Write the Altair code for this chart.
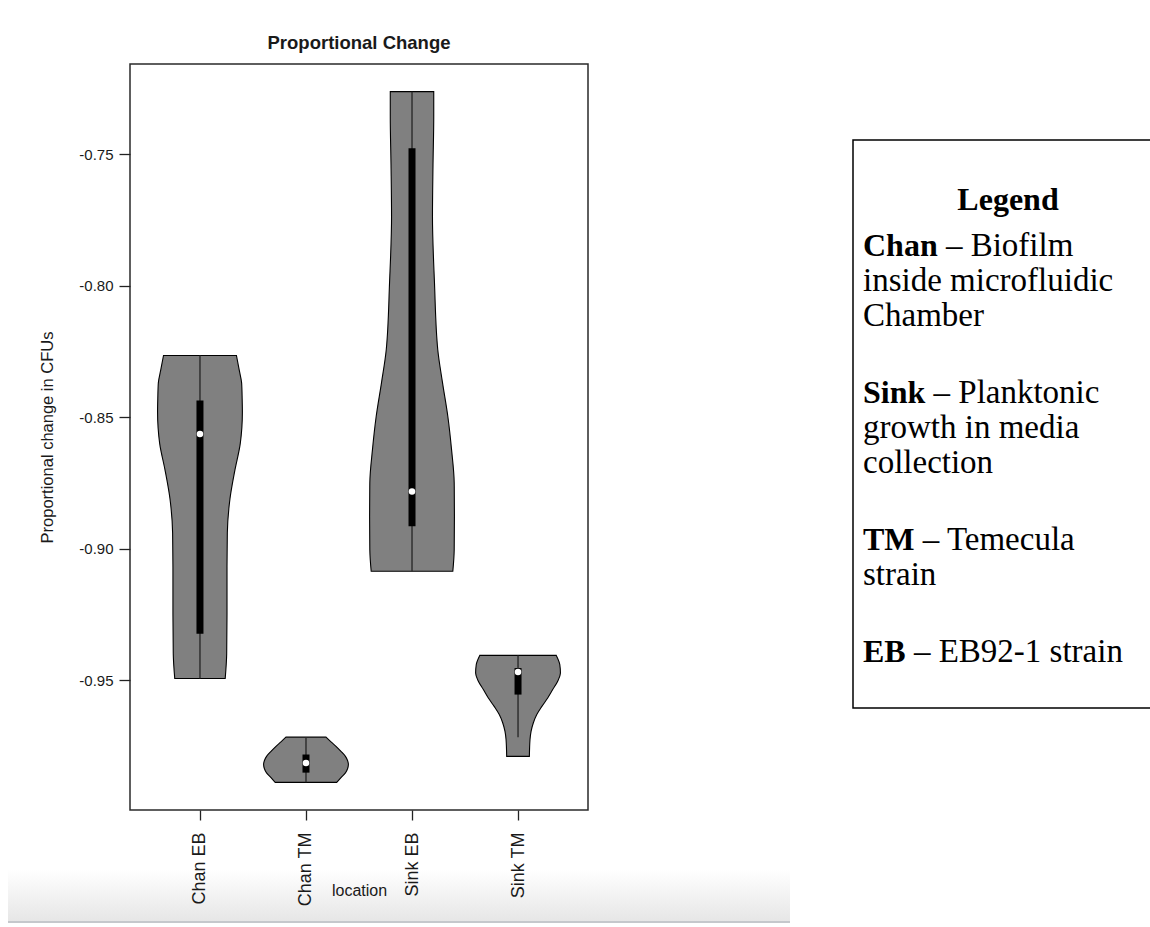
import json
import altair as alt
import pandas as pd

# ---------------- data ----------------
categories = ["Chan EB", "Chan TM", "Sink EB", "Sink TM"]
positions = [1, 2, 3, 4]

# violin outlines: value on the y axis and half-width in x units (widest = 0.4)
chan_eb_y = [-0.8265, -0.832, -0.837, -0.843, -0.848, -0.854, -0.860, -0.870,
             -0.881, -0.894, -0.907, -0.925, -0.940, -0.9494]
chan_eb_hw = [0.344, 0.370, 0.393, 0.398, 0.400, 0.395, 0.380, 0.330,
              0.283, 0.258, 0.255, 0.255, 0.252, 0.238]

chan_tm_y = [-0.9717, -0.9735, -0.9752, -0.9771, -0.9790, -0.9806, -0.9821,
             -0.9837, -0.9853, -0.9871, -0.9889]
chan_tm_hw = [0.189, 0.236, 0.283, 0.330, 0.372, 0.392, 0.400,
              0.392, 0.372, 0.330, 0.290]

sink_eb_y = [-0.7261, -0.7356, -0.7540, -0.7737, -0.7989, -0.8243, -0.8369,
             -0.8497, -0.8623, -0.8749, -0.8877, -0.9004, -0.9086]
sink_eb_hw = [0.205, 0.205, 0.198, 0.193, 0.212, 0.243, 0.288,
              0.338, 0.373, 0.398, 0.400, 0.398, 0.385]

sink_tm_y = [-0.9406, -0.9441, -0.9473, -0.9505, -0.9536, -0.9568, -0.9600,
             -0.9631, -0.9663, -0.9695, -0.9726, -0.9790]
sink_tm_hw = [0.361, 0.394, 0.400, 0.373, 0.327, 0.280, 0.225,
              0.177, 0.144, 0.123, 0.113, 0.107]

# box-plot summaries drawn inside each violin
whisker_low = [-0.9494, -0.9889, -0.9086, -0.9717]
whisker_high = [-0.8265, -0.9717, -0.7261, -0.9406]
q1 = [-0.9324, -0.9852, -0.8915, -0.9555]
q3 = [-0.8436, -0.9783, -0.7476, -0.9454]
medians = [-0.8564, -0.9815, -0.8782, -0.9469]

y_ticks = [-0.95, -0.90, -0.85, -0.80, -0.75]

legend_heading = "Legend"
legend_terms = ["Chan", "Sink", "TM", "EB"]
legend_lines = [
    ["– Biofilm", "inside microfluidic", "Chamber"],
    ["– Planktonic", "growth in media", "collection"],
    ["– Temecula", "strain"],
    ["– EB92-1 strain"],
]

# ---------------- tables ----------------
outline_y = [chan_eb_y, chan_tm_y, sink_eb_y, sink_tm_y]
outline_hw = [chan_eb_hw, chan_tm_hw, sink_eb_hw, sink_tm_hw]

rows = []
for cat, pos, ys, ws in zip(categories, positions, outline_y, outline_hw):
    for yv, w in zip(ys, ws):
        rows.append({"location": cat, "value": yv,
                     "left": pos - w, "right": pos + w})
violin_df = pd.DataFrame(rows)

stats_df = pd.DataFrame({
    "location": categories, "pos": positions,
    "lo": whisker_low, "hi": whisker_high,
    "q1": q1, "q3": q3, "med": medians,
})

# R-style 4% expansion of the data range
all_vals = [v for ys in outline_y for v in ys]
vmin, vmax = min(all_vals), max(all_vals)
ypad = 0.04 * (vmax - vmin)
n = len(categories)
xpad = 0.04 * n

# ---------------- layout ----------------
W, H = 458, 746          # plot area
PAD_L, PAD_T = 130, 64   # plot origin on the page
SANS = "Liberation Sans"
SERIF = "Liberation Serif"
INK = "#1a1a1a"

x_scale = alt.Scale(domain=[0.5 - xpad, n + 0.5 + xpad], nice=False, zero=False)
y_scale = alt.Scale(domain=[vmin - ypad, vmax + ypad], nice=False, zero=False)

x_axis = alt.Axis(
    values=positions,
    labelExpr=json.dumps(categories) + "[datum.value - 1]",
    labelAngle=270, labelFont=SANS, labelFontSize=18, labelColor=INK,
    labelPadding=12, tickSize=10, tickColor="#222", tickWidth=1.3,
    domain=False, grid=False, zindex=1,
    titleFont=SANS, titleFontSize=16, titleFontWeight="normal", titleColor=INK,
    titleX=W / 2, titleY=80, titleAlign="center", titleBaseline="middle",
)
y_axis = alt.Axis(
    values=y_ticks,
    labelExpr="'-' + format(abs(datum.value), '.2f')",
    labelAngle=0, labelFont=SANS, labelFontSize=15, labelColor=INK,
    labelPadding=6, tickSize=11, tickColor="#222", tickWidth=1.3,
    domain=False, grid=False,
    titleFont=SANS, titleFontSize=16.5, titleFontWeight="normal", titleColor=INK,
    titleX=-83, titleY=H / 2, titleAngle=270, titleAlign="center",
    titleBaseline="middle",
)

X_TITLE = "location"
Y_TITLE = "Proportional change in CFUs"

one = pd.DataFrame({"k": [0]})

# soft grey strip along the bottom of the page
band = alt.Chart(one).mark_rect(
    fill=alt.Gradient(
        gradient="linear",
        stops=[alt.GradientStop(color="#ffffff", offset=0),
               alt.GradientStop(color="#e6e6e6", offset=1)],
        x1=0, x2=0, y1=0, y2=1,
    )
).encode(x=alt.value(8 - PAD_L), x2=alt.value(790 - PAD_L),
         y=alt.value(870 - PAD_T), y2=alt.value(921 - PAD_T))
band_edge = alt.Chart(one).mark_rule(color="#c5c8cc", strokeWidth=2).encode(
    x=alt.value(8 - PAD_L), x2=alt.value(790 - PAD_L), y=alt.value(922 - PAD_T))

violins = alt.Chart(violin_df).mark_area(
    orient="horizontal", interpolate="monotone",
    fill="#808080", stroke="black", strokeWidth=1.1, opacity=1,
).encode(
    y=alt.Y("value:Q", scale=y_scale, axis=y_axis, title=Y_TITLE),
    x=alt.X("left:Q", scale=x_scale, axis=x_axis, title=X_TITLE, stack=False),
    x2="right:Q",
    detail="location:N",
)

whiskers = alt.Chart(stats_df).mark_rule(color="#2a2a2a", strokeWidth=1.4).encode(
    x=alt.X("pos:Q", scale=x_scale, axis=x_axis, title=X_TITLE),
    y=alt.Y("lo:Q", scale=y_scale, axis=y_axis, title=Y_TITLE),
    y2="hi:Q",
)

boxes = alt.Chart(stats_df).mark_rule(color="black", strokeWidth=7, strokeCap="butt").encode(
    x=alt.X("pos:Q", scale=x_scale, axis=x_axis, title=X_TITLE),
    y=alt.Y("q1:Q", scale=y_scale, axis=y_axis, title=Y_TITLE),
    y2="q3:Q",
)

median_dots = alt.Chart(stats_df).mark_point(
    shape="circle", filled=True, color="white", size=42, opacity=1, strokeWidth=0
).encode(
    x=alt.X("pos:Q", scale=x_scale, axis=x_axis, title=X_TITLE),
    y=alt.Y("med:Q", scale=y_scale, axis=y_axis, title=Y_TITLE),
)

# ---------------- legend panel ----------------
BOX_L, BOX_T, BOX_B = 853, 140, 708
legend_box = alt.Chart(one).mark_rect(
    fillOpacity=0, stroke="black", strokeWidth=1.5
).encode(x=alt.value(BOX_L - PAD_L), x2=alt.value(1165 - PAD_L),
         y=alt.value(BOX_T - PAD_T), y2=alt.value(BOX_B - PAD_T))

FS_BOLD = 32
FS = 33
# advance widths (1/1000 em) of the bold serif letters used in the terms
BOLD_W = {"C": 722, "h": 556, "a": 500, "n": 556, "S": 556, "i": 278,
          "k": 556, "T": 667, "M": 944, "E": 667, "B": 667}
SPACE_W = 250


def text_layer(txt, x, y, weight="normal", align="left", size=FS):
    return alt.Chart(pd.DataFrame({"t": [txt]})).mark_text(
        font=SERIF, fontSize=size, fontWeight=weight, color="black",
        align=align, baseline="middle",
    ).encode(text="t:N", x=alt.value(x - PAD_L), y=alt.value(y - PAD_T))


legend_layers = [text_layer(legend_heading, 1008, 200, "bold", "center", FS_BOLD)]
TX = 863
y_line = 246
for term, lines in zip(legend_terms, legend_lines):
    bw = sum(BOLD_W[c] for c in term) * FS_BOLD / 1000
    legend_layers.append(text_layer(term, TX, y_line, "bold", size=FS_BOLD))
    legend_layers.append(text_layer(lines[0], TX + bw + SPACE_W * FS / 1000, y_line))
    for extra in lines[1:]:
        y_line += 35
        legend_layers.append(text_layer(extra, TX, y_line))
    y_line += 77

chart = alt.layer(
    band, band_edge, violins, whiskers, boxes, median_dots, legend_box, *legend_layers
).properties(
    width=W, height=H,
    padding={"left": PAD_L, "top": PAD_T, "right": 1150 - PAD_L - W, "bottom": 927 - PAD_T - H},
    autosize=alt.AutoSizeParams(type="none"),
    title=alt.TitleParams(
        text="Proportional Change", font=SANS, fontSize=18.5, fontWeight="bold",
        color=INK, anchor="middle", offset=12,
    ),
).configure(
    background="white",
    view=alt.ViewConfig(stroke="#2a2a2a", strokeWidth=1.5),
)

chart.save("out.html", embed_options={"renderer": "svg", "actions": False})
